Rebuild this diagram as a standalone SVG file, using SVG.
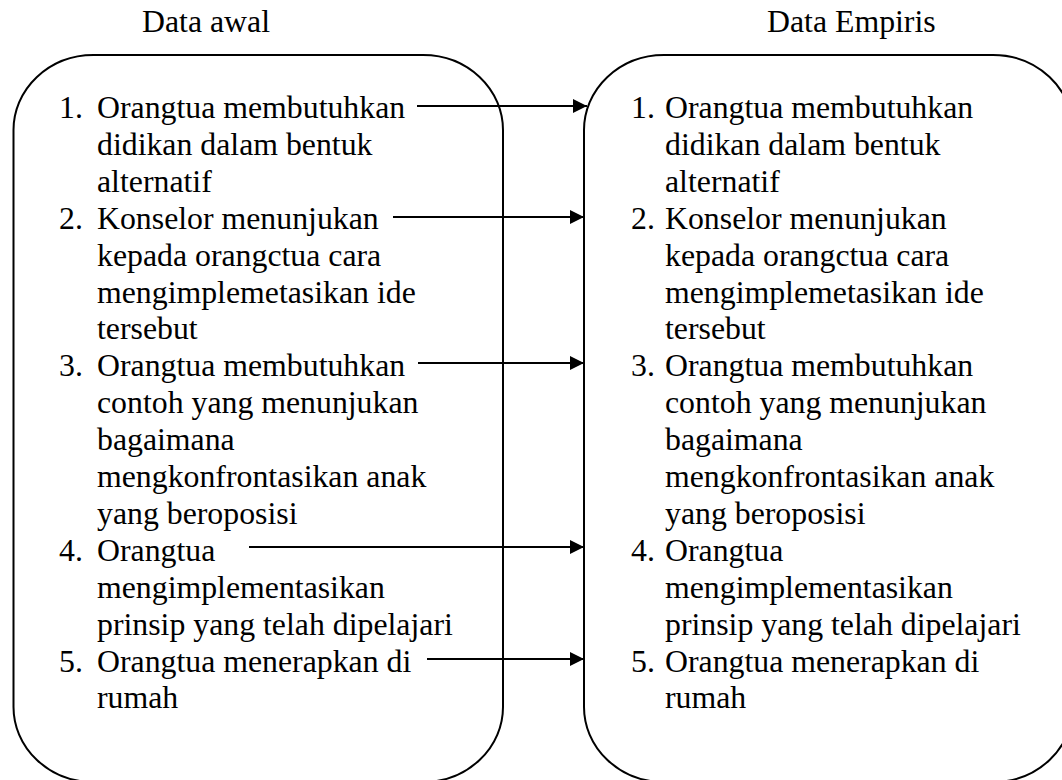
<svg xmlns="http://www.w3.org/2000/svg" width="1062" height="780" viewBox="0 0 1062 780">
  <style>
    text { font-family: "Liberation Serif", "Times New Roman", serif; font-size: 31.8px; fill: #000; }
    .box { fill: #fff; stroke: #000; stroke-width: 2; }
    .conn { stroke: #000; stroke-width: 2; fill: none; marker-end: url(#arrow); }
  </style>
  <defs>
    <marker id="arrow" markerUnits="userSpaceOnUse" markerWidth="15" markerHeight="15" refX="14" refY="7" orient="auto">
      <path d="M0,0 L14,7 L0,14 Z" fill="#000"/>
    </marker>
  </defs>
  <rect width="1062" height="780" fill="#fff"/>

  <g id="node-data-awal">
    <text x="142" y="32">Data awal</text>
    <rect class="box" x="13.5" y="55" width="489.5" height="727" rx="80" ry="75"/>
    <text x="59" y="118">1.</text><text x="97" y="118">Orangtua membutuhkan</text>
    <text x="97" y="154.9">didikan dalam bentuk</text>
    <text x="97" y="191.8">alternatif</text>
    <text x="59" y="228.7">2.</text><text x="97" y="228.7">Konselor menunjukan</text>
    <text x="97" y="265.6">kepada orangctua cara</text>
    <text x="97" y="302.5">mengimplemetasikan ide</text>
    <text x="97" y="339.4">tersebut</text>
    <text x="59" y="376.3">3.</text><text x="97" y="376.3">Orangtua membutuhkan</text>
    <text x="97" y="413.2">contoh yang menunjukan</text>
    <text x="97" y="450.1">bagaimana</text>
    <text x="97" y="487">mengkonfrontasikan anak</text>
    <text x="97" y="523.9">yang beroposisi</text>
    <text x="59" y="560.8">4.</text><text x="97" y="560.8">Orangtua</text>
    <text x="97" y="597.7">mengimplementasikan</text>
    <text x="97" y="634.6">prinsip yang telah dipelajari</text>
    <text x="59" y="671.5">5.</text><text x="97" y="671.5">Orangtua menerapkan di</text>
    <text x="97" y="708.4">rumah</text>
  </g>

  <g id="node-data-empiris">
    <text x="767" y="32">Data Empiris</text>
    <rect class="box" x="584" y="55" width="489" height="727" rx="80" ry="75"/>
    <text x="631" y="118">1.</text><text x="665" y="118">Orangtua membutuhkan</text>
    <text x="665" y="154.9">didikan dalam bentuk</text>
    <text x="665" y="191.8">alternatif</text>
    <text x="631" y="228.7">2.</text><text x="665" y="228.7">Konselor menunjukan</text>
    <text x="665" y="265.6">kepada orangctua cara</text>
    <text x="665" y="302.5">mengimplemetasikan ide</text>
    <text x="665" y="339.4">tersebut</text>
    <text x="631" y="376.3">3.</text><text x="665" y="376.3">Orangtua membutuhkan</text>
    <text x="665" y="413.2">contoh yang menunjukan</text>
    <text x="665" y="450.1">bagaimana</text>
    <text x="665" y="487">mengkonfrontasikan anak</text>
    <text x="665" y="523.9">yang beroposisi</text>
    <text x="631" y="560.8">4.</text><text x="665" y="560.8">Orangtua</text>
    <text x="665" y="597.7">mengimplementasikan</text>
    <text x="665" y="634.6">prinsip yang telah dipelajari</text>
    <text x="631" y="671.5">5.</text><text x="665" y="671.5">Orangtua menerapkan di</text>
    <text x="665" y="708.4">rumah</text>
  </g>

  <g id="connectors">
    <line class="conn" x1="417" y1="106" x2="587" y2="106"/>
    <line class="conn" x1="393" y1="217" x2="584" y2="217"/>
    <line class="conn" x1="418" y1="363" x2="584" y2="363"/>
    <line class="conn" x1="249" y1="547" x2="584" y2="547"/>
    <line class="conn" x1="427" y1="659" x2="584" y2="659"/>
  </g>
</svg>
